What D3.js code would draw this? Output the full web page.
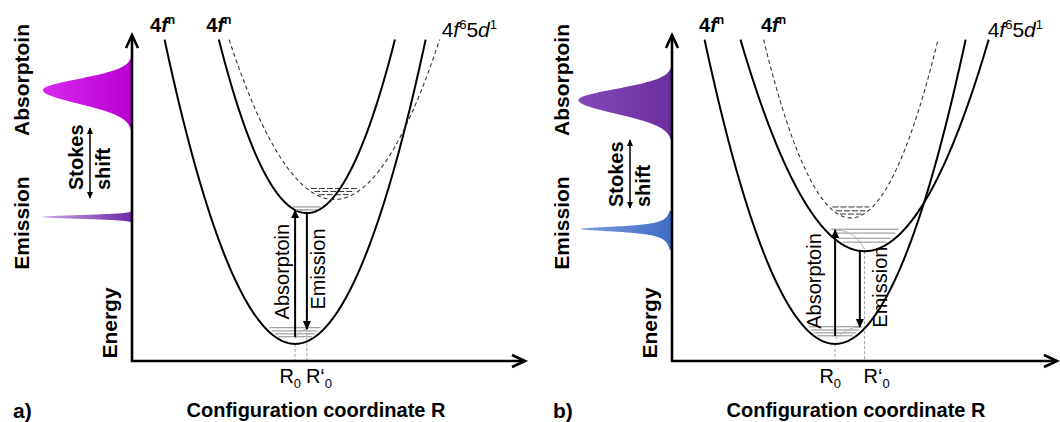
<!DOCTYPE html>
<html>
<head>
<meta charset="utf-8">
<script src="https://cdn.jsdelivr.net/npm/d3@7"></script>
<style>
  html, body { margin: 0; padding: 0; background: #fff; }
  svg { display: block; font-family: "Liberation Sans", Arial, sans-serif; }
</style>
</head>
<body>
<svg id="chart" width="1060" height="422"></svg>
<script>
// ---------- data ----------
const panelTags = ["a)", "b)"];

// Potential curves E(R) = E0 + k (R - R0)^2 ; order: 4f^n ground, 4f^n excited, 4f^6 5d^1
const curveR0_a = [4.15, 4.45, 5.15];
const curveE0_a = [0.53, 4.58, 5.00];
const curveK_a  = [0.854, 1.07, 0.69];
const curveDashed_a = [false, false, true];

const curveR0_b = [4.15, 4.55, 4.90];
const curveE0_b = [0.53, 4.43, 3.40];
const curveK_b  = [0.854, 1.12, 0.657];
const curveDashed_b = [false, true, false];

// Vibrational levels, energy above each curve minimum
const levels_a = [[0.22, 0.31, 0.40, 0.50], [0.10, 0.19], [0.15, 0.25, 0.34]];
const levels_b = [[0.25, 0.34, 0.43, 0.53], [0.12, 0.22, 0.34], [0.28, 0.40, 0.56, 0.68]];

// Curve labels
const curveLabels = [["4", "f", "n"], ["4", "f", "n"], ["4", "f", "6", "5", "d", "1"]];

// Optical transitions: [R, E start, E end]
const absorption_a = [4.15, 0.74, 4.67];
const emission_a   = [4.45, 4.58, 0.99];
const absorption_b = [4.15, 0.77, 4.06];
const emission_b   = [4.78, 3.40, 1.05];

// Equilibrium positions marked on the R axis
const eqLabels = ["R", "R\u2018"];

// Spectra on the energy axis: peak energy, sigma below / above, relative height, shape
const specNames   = ["Absorption a", "Emission a", "Absorption b", "Emission b"];
const specPeakE   = [8.39, 4.46, 8.08, 4.09];
const specSigLow  = [0.42, 0.056, 0.42, 0.108];
const specSigHigh = [0.34, 0.056, 0.34, 0.093];
const specHeight  = [0.99, 1.00, 1.04, 1.02];
const specShape   = ["gauss", "gauss", "gauss", "lorentz"];

// ---------- layout ----------
const svg = d3.select("#chart");
const panelX0 = [132, 672];
const axisLen = 393;
const axisBottom = 361, axisTop = 38;

const defs = svg.append("defs");
defs.append("marker").attr("id", "head")
  .attr("viewBox", "0 0 10 10").attr("refX", 9).attr("refY", 5)
  .attr("markerWidth", 9).attr("markerHeight", 9)
  .attr("markerUnits", "userSpaceOnUse").attr("orient", "auto")
  .append("path").attr("d", "M0,0.5 L10,5 L0,9.5 Z").attr("fill", "#000");
defs.append("marker").attr("id", "smallhead")
  .attr("viewBox", "0 0 10 10").attr("refX", 9).attr("refY", 5)
  .attr("markerWidth", 7).attr("markerHeight", 7)
  .attr("markerUnits", "userSpaceOnUse").attr("orient", "auto-start-reverse")
  .append("path").attr("d", "M0,0.5 L10,5 L0,9.5 Z").attr("fill", "#000");

const specColors = [["#d828ee", "#b800d2"], ["#c9a4e6", "#6f2aa6"], ["#8448b8", "#6c2e9e"], ["#7d9ddb", "#3f6cc4"]];
specColors.forEach((c, i) => {
  const g = defs.append("linearGradient").attr("id", "spec" + i)
    .attr("x1", "0%").attr("x2", "100%").attr("y1", "0%").attr("y2", "0%");
  g.append("stop").attr("offset", "0%").attr("stop-color", c[0]);
  g.append("stop").attr("offset", "100%").attr("stop-color", c[1]);
});

function drawPanel(p) {
  const R0s = p === 0 ? curveR0_a : curveR0_b;
  const E0s = p === 0 ? curveE0_a : curveE0_b;
  const Ks  = p === 0 ? curveK_a : curveK_b;
  const dashed = p === 0 ? curveDashed_a : curveDashed_b;
  const levels = p === 0 ? levels_a : levels_b;
  const absT = p === 0 ? absorption_a : absorption_b;
  const emiT = p === 0 ? emission_a : emission_b;
  const x0 = panelX0[p];

  const x = d3.scaleLinear().domain([0, 10]).range([x0, x0 + axisLen]);
  const y = d3.scaleLinear().domain([0, 10]).range([axisBottom, axisTop]);
  const g = svg.append("g");
  const Etop = 9.95;

  const line = d3.line().x(d => x(d[0])).y(d => y(d[1]));

  // spectra
  const inten = d3.scaleLinear().domain([0, 1]).range([0, 90]);
  [0, 1].forEach(s => {
    const si = p * 2 + s;
    const pk = specPeakE[si], lo = specSigLow[si], hi = specSigHigh[si];
    const span = specShape[si] === "gauss" ? 3.6 : 6;
    const pts = d3.range(0, 301).map(i => {
      const t = -span + 2 * span * i / 300;
      const sig = t < 0 ? lo : hi;
      const E = pk + t * sig;
      const v = specShape[si] === "gauss" ? Math.exp(-t * t / 2) : 1 / (1 + t * t);
      return [E, specHeight[si] * v];
    });
    g.append("path").datum(pts)
      .attr("d", d3.area().y(d => y(d[0])).x0(x0).x1(d => x0 - inten(d[1])))
      .attr("fill", `url(#spec${si})`);
  });

  // equilibrium guide lines
  const eqR = [R0s[0], p === 0 ? R0s[1] : R0s[2]];
  const eqE = [E0s[0], p === 0 ? E0s[1] : E0s[2]];
  eqR.forEach((r, i) => {
    g.append("line").attr("x1", x(r)).attr("x2", x(r))
      .attr("y1", y(eqE[i])).attr("y2", y(0))
      .attr("stroke", "#a0a0a0").attr("stroke-width", 1).attr("stroke-dasharray", "3,2");
  });

  // vibrational levels
  levels.forEach((lv, c) => {
    lv.forEach(dE => {
      const hw = 0.85 * Math.sqrt(dE / Ks[c]);
      g.append("line")
        .attr("x1", x(R0s[c] - hw)).attr("x2", x(R0s[c] + hw))
        .attr("y1", y(E0s[c] + dE)).attr("y2", y(E0s[c] + dE))
        .attr("stroke", dashed[c] ? "#333" : "#8a8a8a")
        .attr("stroke-width", 1)
        .attr("stroke-dasharray", dashed[c] ? "6,2" : null);
    });
  });

  // potential curves
  R0s.forEach((r0, c) => {
    const hw = Math.sqrt((Etop - E0s[c]) / Ks[c]);
    const pts = d3.range(0, 241).map(i => {
      const R = r0 - hw + 2 * hw * i / 240;
      return [R, E0s[c] + Ks[c] * (R - r0) ** 2];
    });
    g.append("path").datum(pts).attr("d", line).attr("fill", "none")
      .attr("stroke", dashed[c] ? "#333" : "#000")
      .attr("stroke-width", dashed[c] ? 1.1 : 2)
      .attr("stroke-dasharray", dashed[c] ? "4,3" : null);
  });

  // relaxation paths
  const upper = p === 0 ? 1 : 2;
  const relax = [
    [[absT[0], absT[2]], [(absT[0] + R0s[upper]) / 2 + 0.15, absT[2]], [R0s[upper], E0s[upper] + 0.05]],
    [[emiT[0], emiT[2]], [(emiT[0] + R0s[0]) / 2, emiT[2]], [R0s[0], E0s[0] + 0.15]]
  ];
  relax.forEach(r => {
    const path = d3.path();
    path.moveTo(x(r[0][0]), y(r[0][1]));
    path.quadraticCurveTo(x(r[1][0]), y(r[1][1]), x(r[2][0]), y(r[2][1]));
    g.append("path").attr("d", path.toString()).attr("fill", "none")
      .attr("stroke", "#b0b0b0").attr("stroke-width", 1);
  });

  // transition arrows
  [absT, emiT].forEach(t => {
    g.append("line").attr("x1", x(t[0])).attr("x2", x(t[0]))
      .attr("y1", y(t[1])).attr("y2", y(t[2]))
      .attr("stroke", "#000").attr("stroke-width", 2)
      .attr("marker-end", "url(#head)");
  });

  // arrow labels
  const absOff = p === 0 ? -12 : -20;
  const emiOff = p === 0 ? 12 : 21;
  [[absT, "Absorptoin", absOff], [emiT, "Emission", emiOff]].forEach(([t, txt, off]) => {
    const cx = x(t[0]) + off, cy = (y(t[1]) + y(t[2])) / 2 - 2;
    g.append("text").attr("transform", `translate(${cx},${cy}) rotate(-90)`)
      .attr("text-anchor", "middle").attr("dy", "0.3em")
      .attr("font-size", 20).attr("fill", "#000").text(txt);
  });

  // axes
  g.append("line").attr("x1", x0).attr("x2", x0).attr("y1", axisBottom + 1).attr("y2", axisTop - 2)
    .attr("stroke", "#000").attr("stroke-width", 2.6);
  g.append("path").attr("d", `M${x0 - 6},${axisTop + 10} L${x0},${axisTop - 3} L${x0 + 6},${axisTop + 10}`)
    .attr("fill", "none").attr("stroke", "#000").attr("stroke-width", 2.6).attr("stroke-linejoin", "miter");
  const xEnd = Math.min(x0 + axisLen, 1057);
  g.append("line").attr("x1", x0 - 1).attr("x2", xEnd).attr("y1", axisBottom).attr("y2", axisBottom)
    .attr("stroke", "#000").attr("stroke-width", 2.6);
  g.append("path").attr("d", `M${xEnd - 13},${axisBottom - 6} L${xEnd},${axisBottom} L${xEnd - 13},${axisBottom + 6}`)
    .attr("fill", "none").attr("stroke", "#000").attr("stroke-width", 2.6);

  // R0 / R'0 labels
  eqR.forEach((r, i) => {
    const tx = g.append("text").attr("x", i === 0 ? x(r) + 6 : x(r) - 1).attr("y", 383)
      .attr("text-anchor", i === 0 ? "end" : "start").attr("font-size", 20);
    tx.append("tspan").text(eqLabels[i]);
    tx.append("tspan").attr("font-size", 13).attr("dy", 5).text("0");
  });

  // curve labels at the top of the arms
  const labelSide = ["left", "left", "right"];
  const labelDx = p === 0 ? [-2, 0, 2] : [7, 10, -1];
  curveLabels.forEach((lab, c) => {
    const hw = Math.sqrt((Etop - E0s[c]) / Ks[c]);
    const ax = labelSide[c] === "left" ? x(R0s[c] - hw) : x(R0s[c] + hw);
    const isLong = lab.length > 3;
    const t = g.append("text").attr("x", ax + labelDx[c]).attr("y", isLong ? 37 : 32)
      .attr("text-anchor", isLong ? "start" : "middle")
      .attr("font-size", isLong ? 21 : 20).attr("font-weight", isLong ? "normal" : "bold");
    lab.forEach((s, k) => {
      const sup = (k === 2) || (k === 5);
      const ts = t.append("tspan").text(s);
      if (s === "f" || s === "d") ts.attr("font-style", "italic");
      if (sup) ts.attr("font-size", isLong ? 13 : 12).attr("dy", -8);
      if (k === 3) ts.attr("dy", 8);
    });
  });

  // side labels
  const side = [["Absorptoin", x0 - 109, 80], ["Emission", x0 - 109, 223], ["Energy", x0 - 21, 323]];
  side.forEach(([txt, cx, cy]) => {
    g.append("text").attr("transform", `translate(${cx},${cy}) rotate(-90)`)
      .attr("text-anchor", "middle").attr("dy", "0.3em")
      .attr("font-size", 21).attr("font-weight", "bold").text(txt);
  });

  // Stokes shift
  const sBase = p === 0 ? 190 : 207;
  [["Stokes", x0 - 55], ["shift", x0 - 28]].forEach(([txt, cx]) => {
    g.append("text").attr("transform", `translate(${cx},${sBase}) rotate(-90)`)
      .attr("text-anchor", "start").attr("dy", "0.3em")
      .attr("font-size", 20).attr("font-weight", "bold").text(txt);
  });
  const arrTop = p === 0 ? 128 : 140, arrBot = p === 0 ? 198 : 208;
  g.append("line").attr("x1", x0 - 42).attr("x2", x0 - 42).attr("y1", arrTop).attr("y2", arrBot)
    .attr("stroke", "#000").attr("stroke-width", 1.5)
    .attr("marker-start", "url(#smallhead)").attr("marker-end", "url(#smallhead)");

  // panel tag and axis title
  g.append("text").attr("x", x0 - 119).attr("y", 418).attr("font-size", 21).attr("font-weight", "bold").text(panelTags[p]);
  g.append("text").attr("x", x0 + 184).attr("y", 417).attr("text-anchor", "middle")
    .attr("font-size", 20).attr("font-weight", "bold").text("Configuration coordinate R");
}

drawPanel(0);
drawPanel(1);
</script>
</body>
</html>
